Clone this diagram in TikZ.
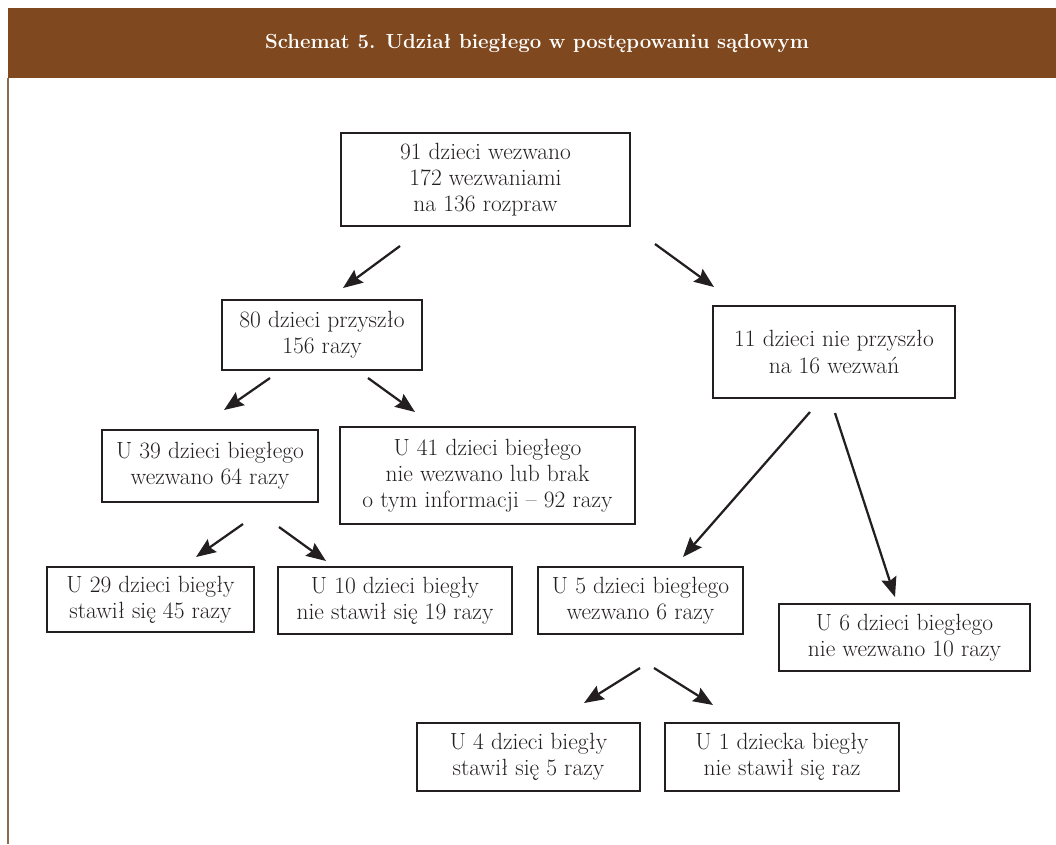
\documentclass[tikz,border=0pt]{standalone}
\usepackage{fontspec}
\usetikzlibrary{arrows.meta}
\definecolor{headbrown}{HTML}{7F481E}
\definecolor{edgebrown}{HTML}{8E6A4E}
\definecolor{ink}{HTML}{231F20}
\begin{document}
\begin{tikzpicture}[x=0.025cm, y=-0.025cm, every node/.style={text=ink},
    box/.style={draw=ink, line width=0.8pt, align=center, inner sep=0pt,
      font=\fontsize{16.7}{18.6}\selectfont},
    arr/.style={draw=ink, line width=1.6pt,
      -{Stealth[length=14pt, width=11pt, inset=2pt]}}]
  \useasboundingbox (0,0) rectangle (1056,844);
  % header band and left rule
  \fill[headbrown] (8,8) rectangle (1056,78);
  \draw[edgebrown, line width=1pt] (8,78) -- (8,844);
  \node[text=white, font=\bfseries\fontsize{14.5}{17}\selectfont] (title) at (537,43)
    {Schemat 5. Udział biegłego w postępowaniu sądowym};

  % boxes
  \node[box, minimum width=7.225cm, minimum height=2.325cm] (all) at (485.5,179.5)
    {91 dzieci wezwano\\172 wezwaniami\\na 136 rozpraw};
  \node[box, minimum width=5cm, minimum height=1.75cm] (came) at (322,335)
    {80 dzieci przyszło\\156 razy};
  \node[box, minimum width=6.05cm, minimum height=2.3cm] (notcame) at (834,352)
    {11 dzieci nie przyszło\\na 16 wezwań};
  \node[box, minimum width=5.4cm, minimum height=1.8cm] (called) at (210,466)
    {U 39 dzieci biegłego\\wezwano 64 razy};
  \node[box, minimum width=7.375cm, minimum height=2.425cm] (notcalled) at (487.5,475.5)
    {U 41 dzieci biegłego\\nie wezwano lub brak\\o tym informacji – 92 razy};
  \node[box, minimum width=5.175cm, minimum height=1.625cm] (appeared) at (150.5,599.5)
    {U 29 dzieci biegły\\stawił się 45 razy};
  \node[box, minimum width=5.85cm, minimum height=1.675cm] (absent) at (395,600.5)
    {U 10 dzieci biegły\\nie stawił się 19 razy};
  \node[box, minimum width=5.125cm, minimum height=1.675cm] (called2) at (640.5,600.5)
    {U 5 dzieci biegłego\\wezwano 6 razy};
  \node[box, minimum width=6.275cm, minimum height=1.675cm] (notcalled2) at (904.5,637.5)
    {U 6 dzieci biegłego\\nie wezwano 10 razy};
  \node[box, minimum width=5.575cm, minimum height=1.7cm] (appeared2) at (528.5,757)
    {U 4 dzieci biegły\\stawił się 5 razy};
  \node[box, minimum width=5.85cm, minimum height=1.7cm] (absent2) at (782,757)
    {U 1 dziecka biegły\\nie stawił się raz};

  % arrows (they float in the gaps between the boxes)
  \foreach \n/\xa/\ya/\xb/\yb in {a/400/246/343/288, b/655/244/714/287,
      c/270/378/224/410, d/368/378/415/412, e/810/412/683/557, f/835/413/895/597,
      g/243/524/196/557, h/279/527/326/561, i/640/668/584/703, j/654/668/713/705} {
    \coordinate (\n-from) at (\xa,\ya);
    \coordinate (\n-to) at (\xb,\yb);
    \draw[arr] (\n-from) -- (\n-to);
  }
\end{tikzpicture}
\end{document}
